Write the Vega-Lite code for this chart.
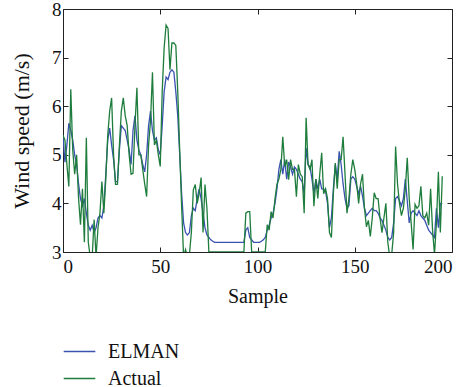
{
  "$schema": "https://vega.github.io/schema/vega-lite/v6.json",
  "width": 389,
  "height": 243,
  "autosize": "none",
  "padding": {"left": 63, "top": 9, "right": 17, "bottom": 135},
  "config": {
    "font": "Liberation Serif, DejaVu Serif, Times New Roman, serif",
    "view": {"stroke": "#222", "strokeWidth": 1},
    "axis": {"grid": false, "domain": false, "tickColor": "#222", "tickSize": -5, "tickWidth": 1, "labelColor": "#111", "titleColor": "#111", "labelFontSize": 19, "titleFontSize": 20, "titleFontWeight": "normal"},
    "legend": {"labelFontSize": 20, "labelColor": "#111"}
  },
  "data": {"values": [
    {"s":0,"ELMAN":5.4,"Actual":5.4},{"s":1,"ELMAN":4.85,"Actual":5.3},{"s":2,"ELMAN":5.2,"Actual":4.8},{"s":3,"ELMAN":5.65,"Actual":4.35},{"s":4,"ELMAN":5.5,"Actual":6.35},
    {"s":5,"ELMAN":5.3,"Actual":5.1},{"s":6,"ELMAN":5.0,"Actual":4.6},{"s":7,"ELMAN":4.8,"Actual":5.0},{"s":8,"ELMAN":4.4,"Actual":4.1},{"s":9,"ELMAN":4.1,"Actual":3.56},
    {"s":10,"ELMAN":3.95,"Actual":4.3},{"s":11,"ELMAN":4.1,"Actual":3.2},{"s":12,"ELMAN":3.8,"Actual":5.35},{"s":13,"ELMAN":3.55,"Actual":3.2},{"s":14,"ELMAN":3.45,"Actual":2.9},
    {"s":15,"ELMAN":3.55,"Actual":2.9},{"s":16,"ELMAN":3.4,"Actual":3.67},{"s":17,"ELMAN":3.5,"Actual":2.9},{"s":18,"ELMAN":3.7,"Actual":3.5},{"s":19,"ELMAN":3.75,"Actual":3.8},
    {"s":20,"ELMAN":3.7,"Actual":4.45},{"s":21,"ELMAN":3.95,"Actual":3.8},{"s":22,"ELMAN":4.6,"Actual":4.5},{"s":23,"ELMAN":5.3,"Actual":5.4},{"s":24,"ELMAN":5.55,"Actual":5.9},
    {"s":25,"ELMAN":5.2,"Actual":6.17},{"s":26,"ELMAN":4.9,"Actual":5.0},{"s":27,"ELMAN":4.45,"Actual":4.39},{"s":28,"ELMAN":4.45,"Actual":4.39},{"s":29,"ELMAN":5.1,"Actual":5.2},
    {"s":30,"ELMAN":5.6,"Actual":5.9},{"s":31,"ELMAN":5.55,"Actual":6.17},{"s":32,"ELMAN":5.5,"Actual":5.8},{"s":33,"ELMAN":5.3,"Actual":5.6},{"s":34,"ELMAN":5.1,"Actual":5.0},
    {"s":35,"ELMAN":4.8,"Actual":4.6},{"s":36,"ELMAN":5.5,"Actual":4.62},{"s":37,"ELMAN":5.8,"Actual":5.6},{"s":38,"ELMAN":5.3,"Actual":6.38},{"s":39,"ELMAN":5.1,"Actual":5.0},
    {"s":40,"ELMAN":5.0,"Actual":5.0},{"s":41,"ELMAN":4.8,"Actual":4.7},{"s":42,"ELMAN":4.65,"Actual":4.4},{"s":43,"ELMAN":5.0,"Actual":4.14},{"s":44,"ELMAN":5.6,"Actual":5.2},
    {"s":45,"ELMAN":5.9,"Actual":5.7},{"s":46,"ELMAN":5.5,"Actual":6.7},{"s":47,"ELMAN":5.3,"Actual":5.2},{"s":48,"ELMAN":5.35,"Actual":5.3},{"s":49,"ELMAN":5.1,"Actual":5.0},
    {"s":50,"ELMAN":5.0,"Actual":4.76},{"s":51,"ELMAN":5.6,"Actual":6.3},{"s":52,"ELMAN":6.3,"Actual":7.2},{"s":53,"ELMAN":6.6,"Actual":7.67},{"s":54,"ELMAN":6.55,"Actual":7.6},
    {"s":55,"ELMAN":6.7,"Actual":6.75},{"s":56,"ELMAN":6.75,"Actual":7.3},{"s":57,"ELMAN":6.7,"Actual":7.3},{"s":58,"ELMAN":6.3,"Actual":7.25},{"s":59,"ELMAN":5.8,"Actual":6.3},
    {"s":60,"ELMAN":5.0,"Actual":5.1},{"s":61,"ELMAN":4.2,"Actual":3.93},{"s":62,"ELMAN":3.6,"Actual":2.9},{"s":63,"ELMAN":3.4,"Actual":3.05},{"s":64,"ELMAN":3.35,"Actual":2.9},
    {"s":65,"ELMAN":3.4,"Actual":2.95},{"s":66,"ELMAN":3.75,"Actual":3.4},{"s":67,"ELMAN":3.9,"Actual":4.28},{"s":68,"ELMAN":3.85,"Actual":4.39},{"s":69,"ELMAN":4.1,"Actual":4.0},
    {"s":70,"ELMAN":4.3,"Actual":4.2},{"s":71,"ELMAN":4.1,"Actual":4.53},{"s":72,"ELMAN":3.8,"Actual":3.4},{"s":73,"ELMAN":3.5,"Actual":4.39},{"s":74,"ELMAN":3.35,"Actual":3.9},
    {"s":75,"ELMAN":3.3,"Actual":3.0},{"s":76,"ELMAN":3.25,"Actual":3.0},{"s":77,"ELMAN":3.22,"Actual":3.0},{"s":78,"ELMAN":3.2,"Actual":3.0},{"s":79,"ELMAN":3.2,"Actual":3.0},
    {"s":80,"ELMAN":3.2,"Actual":3.0},{"s":81,"ELMAN":3.2,"Actual":3.0},{"s":82,"ELMAN":3.2,"Actual":3.0},{"s":83,"ELMAN":3.2,"Actual":3.0},{"s":84,"ELMAN":3.2,"Actual":3.0},
    {"s":85,"ELMAN":3.2,"Actual":3.0},{"s":86,"ELMAN":3.2,"Actual":3.0},{"s":87,"ELMAN":3.2,"Actual":3.0},{"s":88,"ELMAN":3.2,"Actual":3.0},{"s":89,"ELMAN":3.2,"Actual":3.0},
    {"s":90,"ELMAN":3.2,"Actual":3.0},{"s":91,"ELMAN":3.2,"Actual":3.0},{"s":92,"ELMAN":3.2,"Actual":3.0},{"s":93,"ELMAN":3.2,"Actual":3.0},{"s":94,"ELMAN":3.45,"Actual":3.8},
    {"s":95,"ELMAN":3.5,"Actual":3.83},{"s":96,"ELMAN":3.3,"Actual":3.83},{"s":97,"ELMAN":3.25,"Actual":3.0},{"s":98,"ELMAN":3.2,"Actual":3.0},{"s":99,"ELMAN":3.2,"Actual":3.0},
    {"s":100,"ELMAN":3.2,"Actual":3.0},{"s":101,"ELMAN":3.2,"Actual":3.0},{"s":102,"ELMAN":3.22,"Actual":3.0},{"s":103,"ELMAN":3.25,"Actual":3.0},{"s":104,"ELMAN":3.3,"Actual":3.0},
    {"s":105,"ELMAN":3.45,"Actual":3.56},{"s":106,"ELMAN":3.55,"Actual":3.45},{"s":107,"ELMAN":3.7,"Actual":3.83},{"s":108,"ELMAN":3.8,"Actual":3.7},{"s":109,"ELMAN":4.0,"Actual":4.1},
    {"s":110,"ELMAN":4.3,"Actual":4.39},{"s":111,"ELMAN":4.7,"Actual":4.5},{"s":112,"ELMAN":4.9,"Actual":4.7},{"s":113,"ELMAN":4.6,"Actual":5.37},{"s":114,"ELMAN":4.9,"Actual":4.76},
    {"s":115,"ELMAN":4.5,"Actual":4.9},{"s":116,"ELMAN":4.85,"Actual":4.49},{"s":117,"ELMAN":4.75,"Actual":4.9},{"s":118,"ELMAN":4.6,"Actual":4.7},{"s":119,"ELMAN":4.75,"Actual":4.7},
    {"s":120,"ELMAN":4.7,"Actual":4.14},{"s":121,"ELMAN":4.6,"Actual":4.8},{"s":122,"ELMAN":4.5,"Actual":4.6},{"s":123,"ELMAN":4.45,"Actual":4.55},{"s":124,"ELMAN":4.2,"Actual":3.8},
    {"s":125,"ELMAN":5.14,"Actual":5.76},{"s":126,"ELMAN":4.8,"Actual":4.8},{"s":127,"ELMAN":4.75,"Actual":4.7},{"s":128,"ELMAN":4.5,"Actual":4.9},{"s":129,"ELMAN":4.2,"Actual":3.94},
    {"s":130,"ELMAN":4.5,"Actual":4.5},{"s":131,"ELMAN":4.3,"Actual":4.1},{"s":132,"ELMAN":4.5,"Actual":4.6},{"s":133,"ELMAN":4.3,"Actual":5.04},{"s":134,"ELMAN":4.3,"Actual":4.2},
    {"s":135,"ELMAN":4.25,"Actual":4.3},{"s":136,"ELMAN":4.0,"Actual":4.1},{"s":137,"ELMAN":3.5,"Actual":3.4},{"s":138,"ELMAN":3.7,"Actual":3.3},{"s":139,"ELMAN":4.3,"Actual":4.2},
    {"s":140,"ELMAN":4.8,"Actual":4.83},{"s":141,"ELMAN":4.5,"Actual":4.3},{"s":142,"ELMAN":5.07,"Actual":4.9},{"s":143,"ELMAN":4.8,"Actual":4.9},{"s":144,"ELMAN":4.4,"Actual":5.37},
    {"s":145,"ELMAN":4.1,"Actual":4.6},{"s":146,"ELMAN":3.9,"Actual":3.8},{"s":147,"ELMAN":3.95,"Actual":4.1},{"s":148,"ELMAN":4.5,"Actual":4.6},{"s":149,"ELMAN":4.55,"Actual":4.9},
    {"s":150,"ELMAN":4.5,"Actual":4.7},{"s":151,"ELMAN":4.35,"Actual":4.4},{"s":152,"ELMAN":4.2,"Actual":4.0},{"s":153,"ELMAN":4.35,"Actual":4.4},{"s":154,"ELMAN":4.15,"Actual":4.6},
    {"s":155,"ELMAN":3.9,"Actual":3.9},{"s":156,"ELMAN":3.75,"Actual":3.52},{"s":157,"ELMAN":3.8,"Actual":3.65},{"s":158,"ELMAN":3.85,"Actual":3.32},{"s":159,"ELMAN":3.9,"Actual":3.7},
    {"s":160,"ELMAN":3.85,"Actual":4.22},{"s":161,"ELMAN":3.85,"Actual":4.1},{"s":162,"ELMAN":3.8,"Actual":4.1},{"s":163,"ELMAN":3.7,"Actual":3.7},{"s":164,"ELMAN":3.65,"Actual":3.4},
    {"s":165,"ELMAN":3.55,"Actual":3.7},{"s":166,"ELMAN":3.45,"Actual":4.0},{"s":167,"ELMAN":3.3,"Actual":3.2},{"s":168,"ELMAN":3.25,"Actual":2.9},{"s":169,"ELMAN":3.3,"Actual":2.95},
    {"s":170,"ELMAN":3.6,"Actual":3.4},{"s":171,"ELMAN":4.1,"Actual":5.17},{"s":172,"ELMAN":4.14,"Actual":4.4},{"s":173,"ELMAN":4.05,"Actual":4.0},{"s":174,"ELMAN":3.95,"Actual":3.75},
    {"s":175,"ELMAN":4.1,"Actual":3.9},{"s":176,"ELMAN":4.5,"Actual":4.3},{"s":177,"ELMAN":4.05,"Actual":4.94},{"s":178,"ELMAN":3.6,"Actual":4.1},{"s":179,"ELMAN":3.8,"Actual":3.6},
    {"s":180,"ELMAN":3.85,"Actual":3.05},{"s":181,"ELMAN":3.8,"Actual":3.98},{"s":182,"ELMAN":3.75,"Actual":3.9},{"s":183,"ELMAN":3.85,"Actual":3.95},{"s":184,"ELMAN":3.75,"Actual":4.35},
    {"s":185,"ELMAN":3.7,"Actual":3.75},{"s":186,"ELMAN":3.65,"Actual":3.7},{"s":187,"ELMAN":3.55,"Actual":3.8},{"s":188,"ELMAN":3.45,"Actual":3.55},{"s":189,"ELMAN":3.4,"Actual":4.3},
    {"s":190,"ELMAN":3.35,"Actual":3.45},{"s":191,"ELMAN":3.3,"Actual":2.95},{"s":192,"ELMAN":3.9,"Actual":3.6},{"s":193,"ELMAN":3.5,"Actual":4.65},{"s":194,"ELMAN":4.0,"Actual":3.4},
    {"s":195,"ELMAN":4.0,"Actual":4.56}
  ]},
  "layer": [
    {
      "mark": {"type": "line", "strokeWidth": 1.3, "clip": true},
      "encoding": {
        "x": {"field": "s", "type": "quantitative", "scale": {"domain": [0, 200], "nice": false}, "axis": {"values": [0, 50, 100, 150, 200], "title": "Sample", "labelPadding": 10, "titlePadding": 10}},
        "y": {"field": "ELMAN", "type": "quantitative", "scale": {"domain": [3, 8], "nice": false, "zero": false}, "axis": {"values": [3, 4, 5, 6, 7, 8], "title": "Wind speed (m/s)", "titleFontSize": 22, "labelPadding": 7, "titlePadding": 18}},
        "color": {"datum": "ELMAN", "type": "nominal", "scale": {"domain": ["ELMAN", "Actual"], "range": ["#3a52b0", "#1e7d3c"]},
          "legend": {"title": null, "orient": "none", "legendX": 0, "legendY": 326, "direction": "vertical", "symbolType": "stroke", "symbolSize": 1000, "symbolStrokeWidth": 1.3, "labelOffset": 12, "rowPadding": 0}}
      }
    },
    {
      "mark": {"type": "line", "strokeWidth": 1.3, "clip": true},
      "encoding": {
        "x": {"field": "s", "type": "quantitative", "axis": null},
        "y": {"field": "Actual", "type": "quantitative", "axis": null},
        "color": {"datum": "Actual", "type": "nominal"}
      }
    },
    {
      "mark": {"type": "line", "opacity": 0, "clip": true},
      "encoding": {
        "x": {"field": "s", "type": "quantitative", "axis": {"orient": "top", "values": [0, 50, 100, 150, 200], "labels": false, "title": null}},
        "y": {"field": "ELMAN", "type": "quantitative", "axis": {"orient": "right", "values": [3, 4, 5, 6, 7, 8], "labels": false, "title": null}}
      }
    }
  ],
  "resolve": {"axis": {"x": "independent", "y": "independent"}}
}
